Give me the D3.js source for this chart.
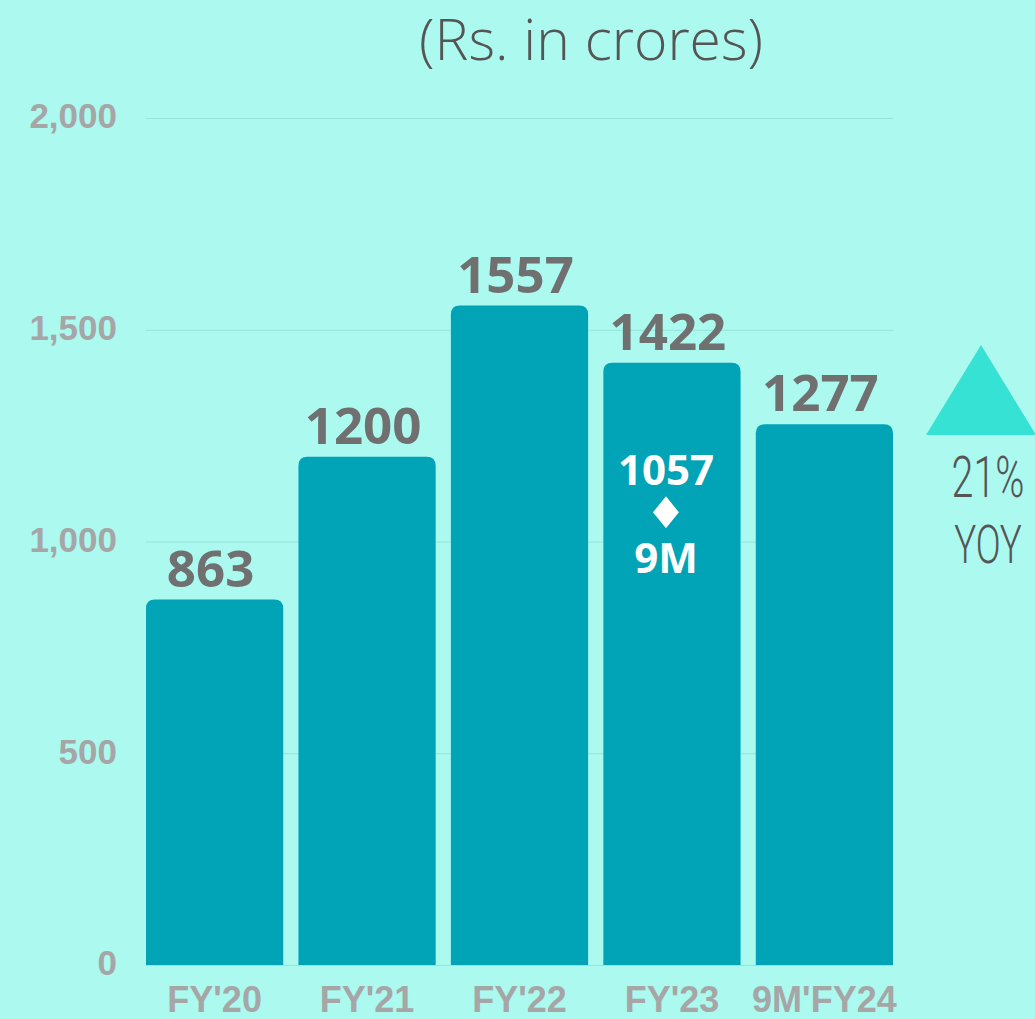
<!DOCTYPE html>
<html>
<head>
<meta charset="utf-8">
<script src="https://cdn.jsdelivr.net/npm/d3@7"></script>
<style>
  html, body { margin: 0; padding: 0; background: #abf9ef; }
  svg { display: block; }
</style>
</head>
<body>
<div id="chart"></div>
<script>
// ---- data ----
var categories = ["FY'20", "FY'21", "FY'22", "FY'23", "9M'FY24"];
var revenues = [863, 1200, 1557, 1422, 1277];
var yTicks = [0, 500, 1000, 1500, 2000];
var nineMonthCategory = "FY'23";
var nineMonthValue = 1057;
var nineMonthLabel = "9M";
var yoyGrowth = "21%";
var yoyLabel = "YOY";
var titleText = "(Rs. in crores)";

// ---- layout ----
var svgWidth = 1035;
var svgHeight = 1019;
var margin = { top: 118, right: 142, bottom: 54, left: 146 };
var width = svgWidth - margin.left - margin.right;
var height = svgHeight - margin.top - margin.bottom;

var svg = d3.select("#chart").append("svg")
  .attr("width", svgWidth)
  .attr("height", svgHeight);

svg.append("rect")
  .attr("width", svgWidth)
  .attr("height", svgHeight)
  .attr("fill", "#abf9ef");

var chartGroup = svg.append("g")
  .attr("transform", `translate(${margin.left}, ${margin.top})`);

var xScale = d3.scaleBand()
  .domain(categories)
  .range([0, width])
  .paddingInner(0.1)
  .paddingOuter(0);

var yScale = d3.scaleLinear()
  .domain([0, 2000])
  .range([height, 0]);

// gridlines
chartGroup.append("g")
  .selectAll("line")
  .data(yTicks)
  .enter()
  .append("line")
  .attr("x1", 0)
  .attr("x2", width)
  .attr("y1", d => yScale(d) + 0.5)
  .attr("y2", d => yScale(d) + 0.5)
  .attr("stroke", "#97e2dc")
  .attr("stroke-width", 1);

// y axis labels
var yAxis = chartGroup.append("g")
  .call(d3.axisLeft(yScale).tickValues(yTicks).tickSize(0).tickPadding(29).tickFormat(d3.format(",")));
yAxis.select(".domain").remove();
yAxis.selectAll("text")
  .attr("fill", "#a6a6a6")
  .attr("font-family", "'Liberation Sans', Arial, sans-serif")
  .attr("font-weight", "bold")
  .attr("font-size", 35)
  .attr("dy", "0.28em");

// x axis labels
var xAxis = chartGroup.append("g")
  .attr("transform", `translate(0, ${height})`)
  .call(d3.axisBottom(xScale).tickSize(0).tickPadding(21));
xAxis.select(".domain").remove();
xAxis.selectAll("text")
  .attr("fill", "#a6a6a6")
  .attr("font-family", "'Liberation Sans', Arial, sans-serif")
  .attr("font-weight", "bold")
  .attr("font-size", 36)
  .attr("dy", "0.71em");

// bars with rounded top corners
var r = 9;
var barPath = d => {
  var x0 = xScale(d.cat), x1 = x0 + xScale.bandwidth();
  var y0 = yScale(d.val), y1 = yScale(0);
  return `M${x0},${y1} L${x0},${y0 + r} Q${x0},${y0} ${x0 + r},${y0} L${x1 - r},${y0} Q${x1},${y0} ${x1},${y0 + r} L${x1},${y1} Z`;
};

var barData = categories.map((c, i) => ({ cat: c, val: revenues[i] }));

chartGroup.selectAll("path.bar")
  .data(barData)
  .enter()
  .append("path")
  .classed("bar", true)
  .attr("d", barPath)
  .attr("fill", "#00a4b6");

// value labels
chartGroup.selectAll("text.value")
  .data(barData)
  .enter()
  .append("text")
  .classed("value", true)
  .attr("x", d => xScale(d.cat) + xScale.bandwidth() / 2 - 4)
  .attr("y", d => yScale(d.val) - 13)
  .attr("text-anchor", "middle")
  .attr("fill", "#707070")
  .attr("font-family", "'Open Sans', sans-serif")
  .attr("font-weight", "bold")
  .attr("font-size", 51)
  .text(d => d.val);

// 9M annotation inside FY'23 bar
var nx = xScale(nineMonthCategory) + xScale.bandwidth() / 2 - 6;
var ny = yScale(nineMonthValue);
chartGroup.append("text")
  .attr("x", nx)
  .attr("y", ny - 32)
  .attr("text-anchor", "middle")
  .attr("fill", "#ffffff")
  .attr("font-family", "'Open Sans', sans-serif")
  .attr("font-weight", "bold")
  .attr("font-size", 42)
  .text(nineMonthValue);
chartGroup.append("path")
  .attr("d", `M${nx},${ny - 21} L${nx + 13},${ny - 5} L${nx},${ny + 11} L${nx - 13},${ny - 5} Z`)
  .attr("fill", "#ffffff");
chartGroup.append("text")
  .attr("x", nx)
  .attr("y", ny + 56)
  .attr("text-anchor", "middle")
  .attr("fill", "#ffffff")
  .attr("font-family", "'Open Sans', sans-serif")
  .attr("font-weight", "bold")
  .attr("font-size", 42)
  .text(nineMonthLabel);

// title
svg.append("text")
  .attr("x", 591)
  .attr("y", 60)
  .attr("text-anchor", "middle")
  .attr("fill", "#555555")
  .attr("font-family", "'Open Sans', sans-serif")
  .attr("font-weight", 300)
  .attr("font-size", 57)
  .text(titleText);

// YOY indicator
svg.append("path")
  .attr("d", "M981,345 L1036,435 L926,435 Z")
  .attr("fill", "#36e2d3");

var yoyGroup = svg.append("g")
  .attr("transform", "translate(988, 0) scale(0.68, 1)");
yoyGroup.append("text")
  .attr("x", 0)
  .attr("y", 497)
  .attr("text-anchor", "middle")
  .attr("fill", "#555555")
  .attr("font-family", "Roboto, sans-serif")
  .attr("font-weight", 300)
  .attr("font-size", 58)
  .text(yoyGrowth);
yoyGroup.append("text")
  .attr("x", 0)
  .attr("y", 563)
  .attr("text-anchor", "middle")
  .attr("fill", "#555555")
  .attr("font-family", "Roboto, sans-serif")
  .attr("font-weight", 300)
  .attr("font-size", 54)
  .text(yoyLabel);
</script>
</body>
</html>
